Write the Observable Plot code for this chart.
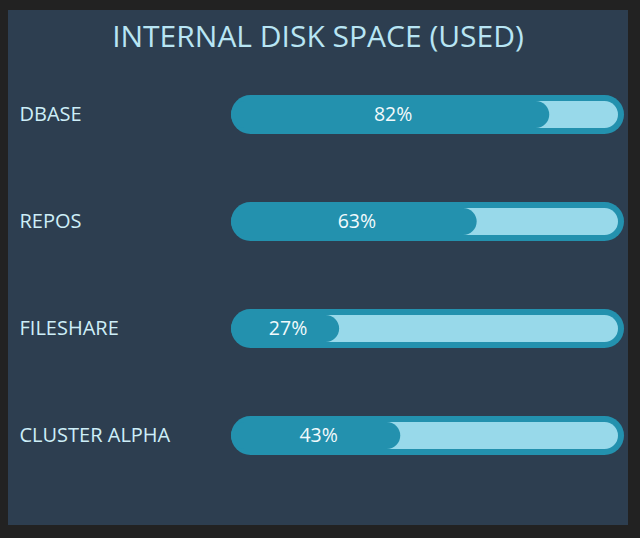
<!DOCTYPE html>
<html>
<head>
<meta charset="utf-8">
<script src="https://cdn.jsdelivr.net/npm/d3@7"></script>
<script src="https://cdn.jsdelivr.net/npm/@observablehq/plot@0.6"></script>
<style>
  html, body { margin: 0; padding: 0; background: #222222; width: 640px; height: 538px; overflow: hidden; }
  #panel { position: absolute; left: 8px; top: 10px; width: 620px; height: 515px; background: #2d3e50; font-family: "Open Sans", sans-serif; }
  #title { position: absolute; left: 0; top: 11px; width: 620px; text-align: center; color: #b8e5f4; font-size: 30px; line-height: 30px; font-weight: 400; }
  #chart { position: absolute; left: 0; top: 60px; }
</style>
</head>
<body>
<div id="panel">
  <div id="title">INTERNAL DISK SPACE (USED)</div>
  <div id="chart"></div>
</div>
<script>
const categories = ["DBASE", "REPOS", "FILESHARE", "CLUSTER ALPHA"];
const used = [82, 63, 27, 43];

const data = categories.map((c, i) => ({category: c, value: used[i]}));

const step = 107;
const c0 = 44;
const plot = Plot.plot({
  width: 620,
  height: 455,
  marginLeft: 228,
  marginRight: 10,
  marginTop: 0,
  marginBottom: 0,
  style: {background: "transparent", fontFamily: "Open Sans, sans-serif", overflow: "visible"},
  x: {domain: [0, 100], axis: null},
  y: {type: "band", domain: categories, range: [c0 - step / 2, c0 + step * 3.5], padding: 0, axis: null},
  marks: [
    Plot.barX(data, {x1: 0, x2: 100, y: "category", fill: "#2391ae", insetTop: 34, insetBottom: 34, insetLeft: -5, insetRight: -6, rx: 19.5}),
    Plot.barX(data, {x1: 0, x2: 100, y: "category", fill: "#98d9ea", insetTop: 40, insetBottom: 40, rx: 13.5}),
    Plot.barX(data, {x1: 0, x2: "value", y: "category", fill: "#2391ae", insetTop: 40, insetBottom: 40, insetLeft: -5, rx: 13.5}),
    Plot.text(data, {x: d => d.value / 2, y: "category", text: d => d.value + "%", fill: "#f2fafc", fontSize: 19.5}),
    Plot.text(data, {y: "category", text: "category", frameAnchor: "left", dx: -217, textAnchor: "start", fill: "#cdeef8", fontSize: 20})
  ]
});
document.getElementById("chart").appendChild(plot);
</script>
</body>
</html>
